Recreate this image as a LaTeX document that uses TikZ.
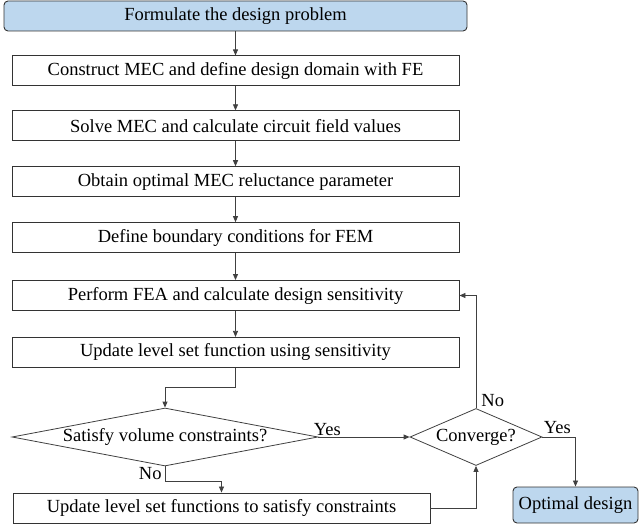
\documentclass[tikz,border=0pt]{standalone}
\usepackage{fontspec}
\setmainfont{Liberation Serif}
\usetikzlibrary{positioning,shapes.geometric,arrows.meta}
\definecolor{termblue}{RGB}{189,215,238}

\begin{document}
\begin{tikzpicture}[
    x=1pt, y=-1pt,
    font=\fontsize{18.5}{22}\selectfont,
    >={Triangle[length=6pt,width=5pt]},
    box/.style={
        draw=black!80,
        minimum width=447pt,
        minimum height=30pt,
        inner sep=0pt,
        line width=0.9pt
    },
    startbox/.style={
        box,
        rounded corners=4pt,
        fill=termblue
    },
    decision/.style={
        diamond,
        draw=black!75,
        inner sep=0pt,
        line width=0.8pt
    },
    arrow/.style={
        ->,
        line width=0.8pt,
        draw=black!75
    },
    answer/.style={
        inner sep=1pt
    }
]

% Frame
\useasboundingbox (0,0) rectangle (640,529);

% Main column
\node[startbox, minimum width=463pt] (formulate) at (235.5,16) {Formulate the design problem};
\node[box, below=24pt of formulate] (construct) {Construct MEC and define design domain with FE};
\node[box, below=24pt of construct] (solve) {Solve MEC and calculate circuit field values};
\node[box, below=25pt of solve] (obtain) {Obtain optimal MEC reluctance parameter};
\node[box, below=25pt of obtain] (boundary) {Define boundary conditions for FEM};
\node[box, below=27pt of boundary] (perform) {Perform FEA and calculate design sensitivity};
\node[box, below=26pt of perform] (update) {Update level set function using sensitivity};

% Decisions
\node[decision, minimum width=306pt, minimum height=58pt,
      label=center:{Satisfy volume constraints?}] (volume) at (165,437) {};
\node[decision, minimum width=132pt, minimum height=57pt,
      label=center:{Converge?}] (converge) at (476,437) {};

% Bottom row
\node[box, minimum width=417pt] (fix) at (221.5,508) {Update level set functions to satisfy constraints};
\node[startbox, minimum width=125pt, minimum height=36pt] (optimal) at (575.5,505) {Optimal design};

% Arrows
\foreach \a/\b in {formulate/construct, construct/solve, solve/obtain,
                   obtain/boundary, boundary/perform, perform/update} {
    \draw[arrow] (\a) -- (\b);
}
\draw[arrow] (update.south) -- ++(0,20) -| (volume.north);
\draw[arrow] (volume.east) node[answer, anchor=south west, xshift=-6pt] {Yes} -- (converge.west);
\draw[arrow] (volume.south) -- ++(0,15) node[answer, anchor=south east, xshift=-2pt] {No} -| (fix.north);
\draw[arrow] (fix.east) -| (converge.south);
\draw[arrow] (converge.north) node[answer, anchor=south west, xshift=4pt] {No} |- (perform.east);
\draw[arrow] (converge.east) node[answer, anchor=south west, yshift=2pt] {Yes} -| (optimal.north);

\end{tikzpicture}
\end{document}
